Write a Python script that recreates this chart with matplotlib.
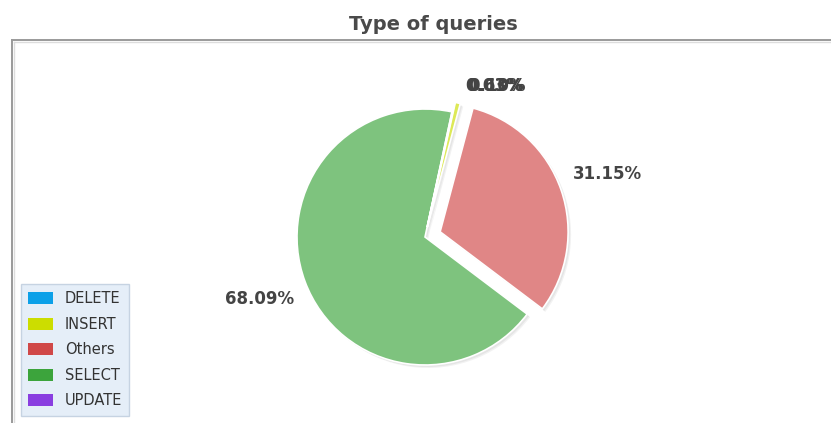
import numpy as np
import matplotlib
matplotlib.use("Agg")
import matplotlib.pyplot as plt
import matplotlib.colors as mcolors
from matplotlib.patches import Patch
from matplotlib.lines import Line2D

# ---- data ----
categories = ["DELETE", "INSERT", "Others", "SELECT", "UPDATE"]
values = [0.03, 0.63, 31.15, 68.09, 0.10]
colors = ["#0ca0e8", "#ccdd00", "#d04848", "#3ca43c", "#8a3ee0"]
title = "Type of queries"

W, H = 831, 423
fig = plt.figure(figsize=(W / 100, H / 100), dpi=100)
ax = fig.add_axes([0, 0, 1, 1])

# frame of plot area (left and top edges visible)
ax.add_line(Line2D([12, 12], [0, H - 40], color="#9a9a9a", lw=1.4))
ax.add_line(Line2D([12, W], [H - 40, H - 40], color="#9a9a9a", lw=1.4))
ax.add_line(Line2D([13.5, 13.5], [0, H - 41.5], color="#dddddd", lw=1))
ax.add_line(Line2D([13.5, W], [H - 41.5, H - 41.5], color="#dddddd", lw=1))

fig.text(433 / W, 1 - 25 / H, title, ha="center", va="center",
         fontsize=14, fontweight="bold", color="#4a4a4a", family="DejaVu Sans")

center = (425, H - 237)
radius = 128
small_expl = 10
explode = [small_expl, small_expl, 16, 0, small_expl]
total = sum(values)
# DELETE starts so that Others begins at ~75 deg
start = 75.1 + (values[0] + values[1]) / total * 360

# shadow
for off in [(3, -3), (2, -2)]:
    sw, _ = ax.pie(values, explode=explode, center=(center[0] + off[0], center[1] + off[1]),
                   radius=radius, startangle=start, counterclock=False,
                   colors=["#000000"] * len(values), frame=True,
                   wedgeprops=dict(linewidth=0, alpha=0.05))
    for w in sw:
        w.set_zorder(1)

wedges, texts, autotexts = ax.pie(
    values, explode=explode, center=center, radius=radius,
    startangle=start, counterclock=False, colors=colors, frame=True,
    autopct="%.2f%%", pctdistance=1.38,
    wedgeprops=dict(edgecolor="white", linewidth=1.2),
    textprops=dict(fontsize=12, fontweight="bold", color="#444444"))
for w, c in zip(wedges, colors):
    w.set_zorder(2)
    rgb = np.array(mcolors.to_rgb(c))
    w.set_facecolor(tuple(rgb * 0.66 + 0.34))

# small-slice labels overlap near the top
ang = np.deg2rad(65)
dist = 167
for i, t in enumerate(autotexts):
    if values[i] < 1:
        t.set_position((center[0] + dist * np.cos(ang) + (i - 2) * 0.6,
                        center[1] + dist * np.sin(ang)))

ax.set_xlim(0, W)
ax.set_ylim(0, H)
ax.set_aspect("equal")
ax.axis("off")

handles = [Patch(facecolor=c, edgecolor="none") for c in colors]
leg = ax.legend(handles, categories, loc="upper left",
                bbox_to_anchor=(21 / W, (H - 284) / H), bbox_transform=fig.transFigure,
                fontsize=10.5, frameon=True, fancybox=False,
                handlelength=1.7, handleheight=0.85, labelspacing=0.72,
                handletextpad=0.8, borderpad=0.5, borderaxespad=0)
leg.get_frame().set_facecolor("#dfeaf7")
leg.get_frame().set_edgecolor("#bccbdc")
leg.get_frame().set_linewidth(1)
for t in leg.get_texts():
    t.set_color("#333333")

fig.savefig("out.png", dpi=100, facecolor="white")
